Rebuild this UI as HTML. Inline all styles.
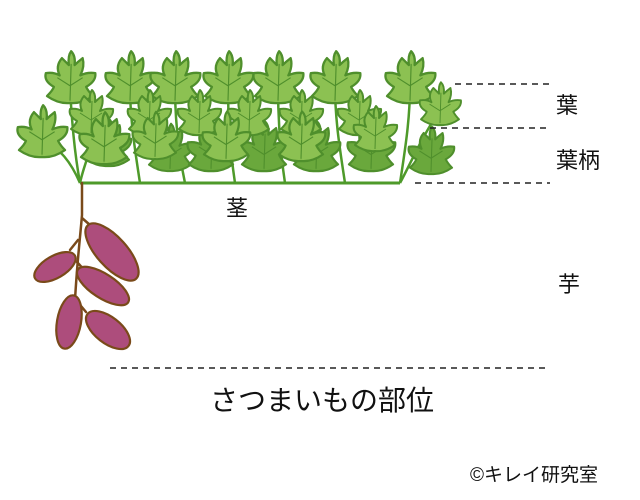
<!DOCTYPE html>
<html><head><meta charset="utf-8"><style>
body{margin:0;background:#fff;width:640px;height:500px;overflow:hidden}
svg{display:block}
text{font-family:"Liberation Sans","Noto Sans CJK JP",sans-serif;fill:#111}
</style></head><body>
<svg width="640" height="500" viewBox="0 0 640 500">
<defs>
<g id="lf">
<path d="M0,20 Q-10,21 -20,14 Q-15,9 -14,6 Q-23,1 -21,-6 Q-14,-7 -9,-4 Q-13,-12 -7,-19 Q-3,-15 -1,-13 Q-2,-21 1,-25 Q5,-21 4,-13 Q7,-16 11,-19 Q13,-12 9,-4 Q15,-7 22,-6 Q23,1 14,6 Q16,10 20,14 Q10,21 0,20 Z" stroke="#4f8f2c" stroke-width="2" stroke-linejoin="round"/>
<path d="M0,18 L1,-14 M0,5 L-11,-2 M0,5 L11,-2" stroke="#4f8f2c" stroke-width="1" fill="none"/>
</g>
</defs>
<g stroke="#4e9a2a" stroke-width="2.5" fill="none">
<path d="M80,183 C74,150 72,120 70,90"/>
<path d="M80,183 C70,160 60,150 45,140"/>
<path d="M80,183 C85,160 95,140 100,120"/>
<path d="M140,183 C135,150 130,120 130,85"/>
<path d="M185,183 C178,150 175,120 175,85"/>
<path d="M235,183 C230,150 228,120 228,85"/>
<path d="M285,183 C280,150 278,120 278,85"/>
<path d="M345,183 C340,150 335,120 335,85"/>
<path d="M400,183 C405,150 410,120 410,85"/>
<path d="M400,183 C410,165 420,140 440,110"/>
<path d="M80,183 L400,183" stroke-width="3"/>
</g>
<g fill="#6aa83c">
<use href="#lf" transform="translate(108,145) scale(1.05)"/>
<use href="#lf" transform="translate(170,150) scale(1.05)"/>
<use href="#lf" transform="translate(211,149) scale(1.1)"/>
<use href="#lf" transform="translate(264,149) scale(1.1)"/>
<use href="#lf" transform="translate(316,149) scale(1.1)"/>
<use href="#lf" transform="translate(371,149) scale(1.1)"/>
<use href="#lf" transform="translate(431,153) scale(1.05)"/>
</g>
<g fill="#8cc152">
<use href="#lf" transform="translate(70,80) scale(1.15)"/>
<use href="#lf" transform="translate(130,80) scale(1.15)"/>
<use href="#lf" transform="translate(175,80) scale(1.15)"/>
<use href="#lf" transform="translate(228,80) scale(1.15)"/>
<use href="#lf" transform="translate(278,80) scale(1.15)"/>
<use href="#lf" transform="translate(335,80) scale(1.15)"/>
<use href="#lf" transform="translate(410,80) scale(1.15)"/>
<use href="#lf" transform="translate(42,134) scale(1.15)"/>
<use href="#lf" transform="translate(91,115) scale(1)"/>
<use href="#lf" transform="translate(149,115) scale(1)"/>
<use href="#lf" transform="translate(199,115) scale(1)"/>
<use href="#lf" transform="translate(249,115) scale(1)"/>
<use href="#lf" transform="translate(301,115) scale(1)"/>
<use href="#lf" transform="translate(359,115) scale(1)"/>
<use href="#lf" transform="translate(440,106) scale(0.95)"/>
<use href="#lf" transform="translate(104,141) scale(1.15)"/>
<use href="#lf" transform="translate(155,138) scale(1.05)"/>
<use href="#lf" transform="translate(226,139) scale(1.1)"/>
<use href="#lf" transform="translate(301,139) scale(1.1)"/>
<use href="#lf" transform="translate(375,131) scale(1)"/>
</g>
<g stroke="#7a4a1a" stroke-width="2.5" fill="none" stroke-linecap="round">
<path d="M82,183 L82,215 C80,240 76,270 74,320"/>
<path d="M82,218 L90,225"/><path d="M78,240 L70,250"/><path d="M77,262 L86,272"/><path d="M75,295 L70,305"/><path d="M76,300 L86,312"/>
</g>
<g fill="#ad4d7c" stroke="#7a4a1a" stroke-width="2.2">
<ellipse cx="112" cy="252" rx="36" ry="15" transform="rotate(48 112 252)"/>
<ellipse cx="55" cy="267" rx="23" ry="11" transform="rotate(-30 55 267)"/>
<ellipse cx="103" cy="286" rx="30" ry="12" transform="rotate(33 103 286)"/>
<ellipse cx="69" cy="322" rx="27" ry="12" transform="rotate(100 69 322)"/>
<ellipse cx="108" cy="330" rx="26" ry="13" transform="rotate(38 108 330)"/>
</g>
<g stroke="#222" stroke-width="1.5" stroke-dasharray="6,5">
<line x1="455" y1="84" x2="550" y2="84"/>
<line x1="430" y1="128" x2="550" y2="128"/>
<line x1="415" y1="183" x2="550" y2="183"/>
<line x1="110" y1="368" x2="550" y2="368"/>
</g>
<text x="556" y="113" font-size="22">葉</text>
<text x="556" y="168" font-size="22">葉柄</text>
<text x="558" y="292" font-size="22">芋</text>
<text x="226" y="216" font-size="22">茎</text>
<text x="210" y="410" font-size="28">さつまいもの部位</text>
<text x="470" y="481" font-size="19">©キレイ研究室</text>
</svg>
</body></html>
